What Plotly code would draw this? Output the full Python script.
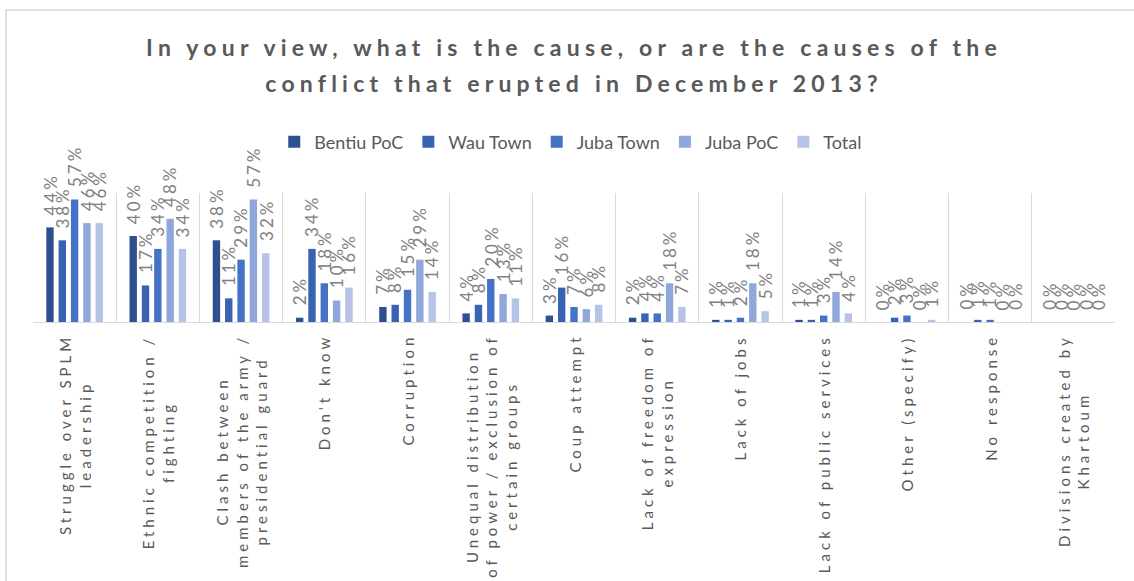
import plotly.graph_objects as go

# ---------------- data ----------------
categories = [
    "Struggle over SPLM leadership",
    "Ethnic competition / fighting",
    "Clash between members of the army / presidential guard",
    "Don't know",
    "Corruption",
    "Unequal distribution of power / exclusion of certain groups",
    "Coup attempt",
    "Lack of freedom of expression",
    "Lack of jobs",
    "Lack of public services",
    "Other (specify)",
    "No response",
    "Divisions created by Khartoum",
]
tick_lines = [
    ["Struggle over SPLM", "leadership"],
    ["Ethnic competition /", "fighting"],
    ["Clash between", "members of the army /", "presidential guard"],
    ["Don't know"],
    ["Corruption"],
    ["Unequal distribution", "of power / exclusion of", "certain groups"],
    ["Coup attempt"],
    ["Lack of freedom of", "expression"],
    ["Lack of jobs"],
    ["Lack of public services"],
    ["Other (specify)"],
    ["No response"],
    ["Divisions created by", "Khartoum"],
]
series_names = ["Bentiu PoC", "Wau Town", "Juba Town", "Juba PoC", "Total"]
bentiu_poc = [44, 40, 38, 2, 7, 4, 3, 2, 1, 1, 0, 0, 0]
wau_town = [38, 17, 11, 34, 8, 8, 16, 4, 1, 1, 2, 1, 0]
juba_town = [57, 34, 29, 18, 15, 20, 7, 4, 2, 3, 3, 1, 0]
juba_poc = [46, 48, 57, 10, 29, 13, 6, 18, 18, 14, 0, 0, 0]
total = [46, 34, 32, 16, 14, 11, 8, 7, 5, 4, 1, 0, 0]
series_values = [bentiu_poc, wau_town, juba_town, juba_poc, total]
colors = ["#2F5090", "#3862B2", "#4472C4", "#8FA7DB", "#B6C3E7"]

title_lines = [
    "In your view, what is the cause, or are the causes of the",
    "conflict that erupted in December 2013?",
]

# ---------------- layout constants ----------------
W, H = 1134, 581
ML, MR, MT, MB = 33, 19, 193, 259
BARGAP, BARGROUPGAP = 0.26, 0.4
plot_w = W - ML - MR
plot_h = H - MT - MB
cat_w = plot_w / len(categories)
slot = cat_w * (1 - BARGAP) / len(series_names)


def px_to_paper_y(py):
    return (H - MB - py) / plot_h


def px_to_paper_x(px):
    return (px - ML) / plot_w


def spaced(text, ls):
    return f"<span style='letter-spacing:{ls}px'>{text}</span>"


fig = go.Figure()
for name, vals, col in zip(series_names, series_values, colors):
    fig.add_trace(go.Bar(name=name, x=categories, y=vals, marker_color=col,
                         marker_line_width=0))

annotations = []
# data labels
for si, vals in enumerate(series_values):
    for cat, v in zip(categories, vals):
        annotations.append(dict(
            x=cat, y=v, xref="x", yref="y", showarrow=False,
            text=spaced(f"{round(v)}%", 3), textangle=-90,
            xanchor="center", yanchor="bottom",
            xshift=(si - 2) * slot, yshift=10,
            font=dict(family="Lato", size=17, color="#808080"),
        ))
# category labels
for cat, lines in zip(categories, tick_lines):
    annotations.append(dict(
        x=cat, y=px_to_paper_y(332), xref="x", yref="paper", showarrow=False,
        text="<br>".join(spaced(l, 4.0) for l in lines), textangle=-90,
        xanchor="center", yanchor="top", align="center",
        font=dict(family="Lato", size=15, color="#595959"),
    ))

title_text = "<br>".join(
    f"<span style='font-size:23px;letter-spacing:5.2px'>{t}</span>" for t in title_lines
)

fig.update_layout(
    width=W, height=H,
    margin=dict(l=ML, r=MR, t=MT, b=MB, pad=0),
    paper_bgcolor="white", plot_bgcolor="white",
    barmode="group", bargap=BARGAP, bargroupgap=BARGROUPGAP,
    title=dict(text=title_text, x=0.5, xref="paper", xanchor="center",
               y=1 - 55.5 / H, yref="container", yanchor="middle",
               font=dict(family="Lato", size=28, color="#595959", weight="bold")),
    legend=dict(orientation="h", x=0.497, xanchor="center", y=px_to_paper_y(142),
                yanchor="middle", font=dict(family="Lato", size=18, color="#595959"),
                bgcolor="rgba(0,0,0,0)"),
    xaxis=dict(showticklabels=False, ticks="", tickson="boundaries", showgrid=True,
               gridcolor="#D9D9D9", gridwidth=1, showline=True, linecolor="#D9D9D9",
               linewidth=1, zeroline=False),
    yaxis=dict(range=[0, 60], showgrid=False, zeroline=False, showticklabels=False,
               ticks="", showline=False),
    annotations=annotations,
    shapes=[dict(type="rect", xref="paper", yref="paper",
                 x0=px_to_paper_x(6), x1=px_to_paper_x(W + 10),
                 y0=px_to_paper_y(H + 10), y1=px_to_paper_y(10),
                 line=dict(color="#D9D9D9", width=1.5), layer="below")],
    showlegend=True,
)

fig.write_html("out.html")
